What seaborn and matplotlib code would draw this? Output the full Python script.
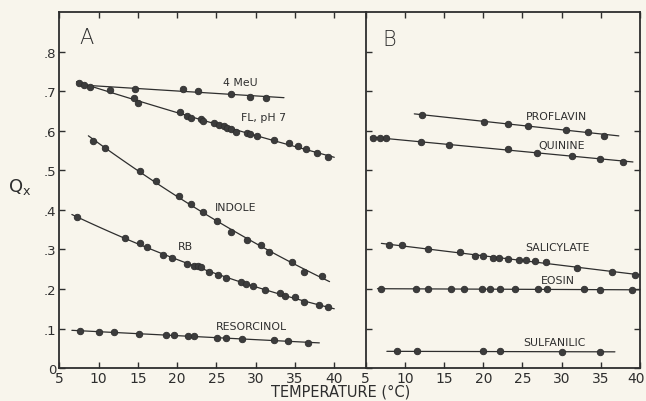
import matplotlib
matplotlib.use("Agg")
import matplotlib.pyplot as plt
import matplotlib.transforms as mtransforms
import numpy as np
import pandas as pd
import seaborn as sns

# ==================================
# DATA
# ==================================

# panel A
meu_t = [8.9, 14.6, 20.7, 22.6, 26.9, 29.3, 31.3]
meu_q = [0.712, 0.706, 0.705, 0.701, 0.694, 0.686, 0.684]
meu_span = [8.5, 33.6]

fl_t = [7.5, 8.2, 11.4, 14.5, 15.0, 20.3, 21.3, 21.8, 23.0, 23.3, 24.7, 25.3,
        25.9, 26.4, 26.9, 27.5, 28.9, 29.3, 30.2, 32.3, 34.3, 35.4, 36.4, 37.8, 39.2]
fl_q = [0.722, 0.716, 0.703, 0.684, 0.670, 0.647, 0.637, 0.632, 0.629, 0.626, 0.620, 0.615,
        0.612, 0.608, 0.605, 0.598, 0.595, 0.592, 0.588, 0.576, 0.570, 0.561, 0.553, 0.543, 0.534]
fl_span = [7.2, 40.0]

indole_t = [9.3, 10.8, 15.3, 17.3, 20.2, 21.7, 23.3, 25.1, 26.8, 28.9, 30.7, 31.7, 34.6, 36.2, 38.5]
indole_q = [0.575, 0.556, 0.498, 0.474, 0.435, 0.414, 0.394, 0.372, 0.345, 0.323, 0.310, 0.293,
            0.269, 0.244, 0.234]
indole_span = [8.7, 39.4]

rb_t = [7.3, 13.3, 15.3, 16.2, 18.2, 19.3, 21.3, 22.2, 22.7, 23.0, 24.1, 25.2, 26.2, 28.1,
        28.8, 29.7, 31.2, 33.1, 33.7, 35.0, 36.1, 38.1, 39.2]
rb_q = [0.381, 0.328, 0.316, 0.305, 0.286, 0.278, 0.263, 0.259, 0.257, 0.255, 0.244, 0.235,
        0.227, 0.218, 0.213, 0.207, 0.198, 0.191, 0.181, 0.179, 0.166, 0.160, 0.154]
rb_span = [6.6, 40.0]

res_t = [7.6, 10.1, 12.0, 15.2, 18.6, 19.6, 21.4, 22.1, 25.1, 26.2, 28.2, 32.3, 34.1, 36.7]
res_q = [0.094, 0.092, 0.091, 0.085, 0.083, 0.083, 0.080, 0.080, 0.077, 0.076, 0.074,
         0.071, 0.068, 0.063]
res_span = [6.6, 38.1]

# panel B
prof_t = [12.2, 20.1, 23.1, 25.7, 30.5, 33.4, 35.4]
prof_q = [0.641, 0.622, 0.618, 0.613, 0.603, 0.598, 0.588]
prof_span = [11.2, 37.3]

quin_t = [5.9, 6.8, 7.6, 12.1, 15.6, 23.1, 26.8, 31.3, 34.9, 37.8]
quin_q = [0.583, 0.583, 0.581, 0.571, 0.565, 0.553, 0.544, 0.537, 0.530, 0.522]
quin_span = [5.6, 39.1]

sal_t = [8.0, 9.6, 12.9, 17.0, 18.9, 20.0, 21.2, 22.0, 23.1, 24.5, 25.4, 26.6, 28.0,
         31.9, 36.4, 39.3]
sal_q = [0.312, 0.311, 0.300, 0.293, 0.283, 0.283, 0.278, 0.278, 0.276, 0.274, 0.274,
         0.271, 0.269, 0.254, 0.244, 0.235]
sal_span = [7.0, 40.0]

eosin_t = [6.9, 11.4, 12.9, 15.9, 17.5, 19.9, 20.9, 22.1, 24.1, 27.0, 28.1, 32.9, 34.9, 39.0]
eosin_q = [0.201, 0.200, 0.200, 0.200, 0.200, 0.200, 0.199, 0.199, 0.199, 0.199, 0.199,
           0.199, 0.198, 0.198]
eosin_span = [6.5, 40.0]

sulf_t = [9.0, 11.5, 20.0, 22.1, 30.0, 34.9]
sulf_q = [0.042, 0.042, 0.042, 0.042, 0.041, 0.041]
sulf_span = [7.7, 36.8]

ytick_vals = [0, 0.1, 0.2, 0.3, 0.4, 0.5, 0.6, 0.7, 0.8]
ytick_labels = ["0", ".1", ".2", ".3", ".4", ".5", ".6", ".7", ".8"]
xtick_vals = [5, 10, 15, 20, 25, 30, 35, 40]

# name, points, span of the drawn curve, fit degree, label position
panel_a = [
    ("4 MeU", meu_t, meu_q, meu_span, 1, (28.1, 0.724)),
    ("FL, pH 7", fl_t, fl_q, fl_span, 2, (31.0, 0.635)),
    ("INDOLE", indole_t, indole_q, indole_span, 2, (27.5, 0.408)),
    ("RB", rb_t, rb_q, rb_span, 2, (21.1, 0.309)),
    ("RESORCINOL", res_t, res_q, res_span, 1, (29.5, 0.106)),
]
panel_b = [
    ("PROFLAVIN", prof_t, prof_q, prof_span, 1, (29.4, 0.638)),
    ("QUININE", quin_t, quin_q, quin_span, 1, (30.0, 0.565)),
    ("SALICYLATE", sal_t, sal_q, sal_span, 1, (29.5, 0.306)),
    ("EOSIN", eosin_t, eosin_q, eosin_span, 1, (29.5, 0.223)),
    ("SULFANILIC", sulf_t, sulf_q, sulf_span, 1, (29.1, 0.066)),
]

# ==================================
# PLOT
# ==================================

bg = "#f8f5ec"
ink = "#2e2e2e"

sns.set_theme(style="ticks", rc={
    "figure.facecolor": bg,
    "axes.facecolor": bg,
    "axes.edgecolor": ink,
    "axes.linewidth": 1.3,
    "xtick.color": ink,
    "ytick.color": ink,
})
plt.rcParams["font.family"] = ["DejaVu Sans"]

fig = plt.figure(figsize=(6.46, 4.02), dpi=100)
ax_a = fig.add_axes([0.0918, 0.082, 0.4743, 0.886])
ax_b = fig.add_axes([0.5661, 0.082, 0.4246, 0.886])


def draw_panel(ax, series, xmax):
    for name, t, q, span, deg, lab in series:
        pts = pd.DataFrame({"t": t, "q": q})
        coef = np.polyfit(pts["t"], pts["q"], deg)
        curve = pd.DataFrame({"t": np.linspace(span[0], span[1], 60)})
        curve["q"] = np.polyval(coef, curve["t"])
        sns.lineplot(data=curve, x="t", y="q", ax=ax, color=ink, lw=0.9)
        sns.scatterplot(data=pts, x="t", y="q", ax=ax, color="#3c3c3c",
                        edgecolor=ink, linewidth=0.6, s=22, zorder=3)
        ax.text(lab[0], lab[1], name, fontsize=7.8, color=ink,
                ha="center", va="center")
    ax.set_xlim(5, xmax)
    ax.set_ylim(0, 0.901)
    ax.set_xticks(xtick_vals)
    ax.set_xticklabels([str(v) for v in xtick_vals], fontsize=10)
    ax.set_xlabel("")
    ax.set_ylabel("")
    ax.tick_params(direction="in", length=4, width=1, top=True, pad=2)


draw_panel(ax_a, panel_a, 44.0)
draw_panel(ax_b, panel_b, 40.0)

ax_a.set_yticks(ytick_vals)
ax_a.set_yticklabels(ytick_labels, fontsize=9.5)
ax_a.tick_params(axis="y", right=False)
ax_a.spines["right"].set_visible(False)

ax_b.set_yticks(ytick_vals)
ax_b.tick_params(axis="y", right=True, labelleft=False)

# keep the last "40" inside the canvas, as in the original
last = ax_b.get_xticklabels()[-1]
last.set_transform(last.get_transform() +
                   mtransforms.ScaledTranslation(-4 / 100, 0, fig.dpi_scale_trans))

ax_a.text(0.065, 0.93, "A", transform=ax_a.transAxes, fontsize=15,
          fontweight="light", color=ink, va="center")
ax_b.text(0.06, 0.925, "B", transform=ax_b.transAxes, fontsize=15,
          fontweight="light", color=ink, va="center")

fig.text(0.031, 0.535, "Q$_\\mathregular{x}$", fontsize=13, color=ink,
         ha="center", va="center")
fig.text(0.527, 0.025, "TEMPERATURE (°C)", fontsize=10.5, color=ink,
         ha="center", va="center")

fig.savefig("out.png", dpi=100, facecolor=bg)
